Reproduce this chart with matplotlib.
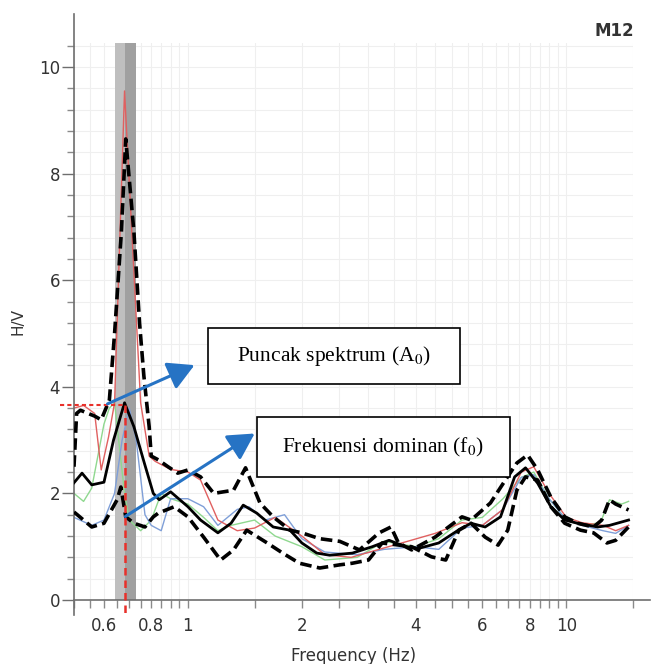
import matplotlib.pyplot as plt
import numpy as np
from matplotlib.patches import Rectangle, FancyArrowPatch
from matplotlib.ticker import FixedLocator, MultipleLocator, NullFormatter

# mean H/V curve (thick solid black)
freq_mean = [0.5, 0.525, 0.557, 0.6, 0.636, 0.68, 0.72, 0.767, 0.81, 0.84, 0.9, 1.0, 1.08,
             1.2, 1.3, 1.4, 1.52, 1.68, 1.86, 2.0, 2.19, 2.37, 2.72, 3.07, 3.4, 3.76, 4.08,
             4.6, 5.18, 5.6, 6.1, 6.7, 7.3, 7.8, 8.4, 9.1, 9.9, 10.7, 12.1, 13.0, 14.6]
hv_mean = [2.2, 2.38, 2.16, 2.21, 3.0, 3.7, 3.25, 2.57, 2.0, 1.88, 2.03, 1.75, 1.5,
           1.26, 1.44, 1.78, 1.63, 1.37, 1.31, 1.07, 0.88, 0.84, 0.88, 1.0, 1.12, 1.0, 0.97,
           1.07, 1.31, 1.44, 1.37, 1.56, 2.31, 2.48, 2.19, 1.75, 1.5, 1.44, 1.37, 1.4, 1.5]

# upper std curve (thick dashed)
freq_up = [0.5, 0.508, 0.52, 0.545, 0.567, 0.59, 0.62, 0.64, 0.667, 0.685, 0.72, 0.745, 0.765,
           0.79, 0.80, 0.835, 0.886, 0.94, 1.0, 1.08, 1.17, 1.32, 1.42, 1.55, 1.68, 1.86, 2.0,
           2.23, 2.52, 2.84, 3.2, 3.44, 3.6, 3.9, 4.5, 5.3, 5.6, 6.3, 6.9, 7.4, 7.9, 8.4, 9.1,
           9.9, 10.7, 11.8, 12.4, 13.0, 13.5, 14.6]
hv_up = [2.5, 3.5, 3.56, 3.5, 3.45, 3.38, 3.75, 5.0, 6.9, 8.65, 6.9, 5.2, 4.2,
         3.25, 2.7, 2.63, 2.5, 2.38, 2.44, 2.31, 2.0, 2.06, 2.48, 1.82, 1.56, 1.31, 1.26,
         1.15, 1.1, 0.94, 1.26, 1.37, 1.07, 0.94, 1.18, 1.56, 1.5, 1.82, 2.25, 2.57, 2.72, 2.44, 1.93,
         1.56, 1.44, 1.37, 1.5, 1.88, 1.8, 1.69]

# lower std curve (thick dashed)
freq_lo = [0.5, 0.51, 0.557, 0.6, 0.65, 0.665, 0.685, 0.72, 0.77, 0.81, 0.835, 0.92, 1.0, 1.1,
           1.22, 1.32, 1.43, 1.62, 1.78, 1.97, 2.23, 2.52, 2.72, 3.0, 3.26, 3.9, 4.4, 4.8, 5.2,
           5.6, 6.1, 6.6, 7.0, 7.4, 7.8, 8.4, 9.1, 9.9, 10.9, 11.8, 12.8, 13.5, 14.6]
hv_lo = [1.65, 1.6, 1.37, 1.44, 1.88, 2.12, 1.56, 1.44, 1.37, 1.56, 1.63, 1.75, 1.56, 1.18,
         0.75, 0.94, 1.31, 1.07, 0.88, 0.69, 0.6, 0.66, 0.69, 0.75, 1.07, 1.0, 0.81, 0.75, 1.31,
         1.44, 1.18, 1.03, 1.31, 2.06, 2.31, 2.25, 1.75, 1.44, 1.31, 1.26, 1.07, 1.12, 1.37]

# individual windows (thin coloured)
freq_red = [0.5, 0.53, 0.567, 0.59, 0.617, 0.64, 0.68, 0.75, 0.79, 0.82, 0.9, 1.0, 1.08, 1.2,
            1.35, 1.5, 1.7, 2.0, 2.3, 2.7, 3.2, 3.8, 4.5, 5.3, 6.0, 6.8, 7.6, 8.2, 9.0, 10.0,
            11.0, 12.5, 13.5, 14.6]
hv_red = [3.6, 3.65, 3.5, 2.44, 3.06, 3.7, 9.55, 3.7, 2.7, 2.6, 2.45, 2.4, 2.25, 1.5,
          1.3, 1.35, 1.55, 1.2, 0.85, 0.8, 0.95, 1.1, 1.25, 1.45, 1.4, 1.7, 2.4, 2.5, 2.0, 1.55,
          1.45, 1.4, 1.3, 1.4]

freq_green = [0.5, 0.53, 0.557, 0.6, 0.62, 0.64, 0.68, 0.7, 0.75, 0.8, 0.85, 0.9, 1.0, 1.1,
              1.2, 1.3, 1.5, 1.7, 2.0, 2.3, 2.8, 3.3, 4.0, 4.6, 5.3, 6.0, 6.8, 7.6, 8.2, 9.0,
              10.0, 11.0, 12.3, 13.0, 14.0, 14.6]
hv_green = [2.0, 1.85, 2.1, 3.3, 3.6, 3.7, 2.0, 1.5, 1.3, 1.5, 2.0, 1.9, 1.8, 1.55,
            1.3, 1.4, 1.5, 1.2, 1.0, 0.75, 0.8, 1.1, 1.0, 1.15, 1.5, 1.55, 1.9, 2.3, 2.4, 1.9,
            1.5, 1.4, 1.45, 1.88, 1.8, 1.85]

freq_blue = [0.5, 0.557, 0.6, 0.64, 0.67, 0.7, 0.73, 0.77, 0.8, 0.85, 0.9, 1.0, 1.1, 1.2,
             1.35, 1.45, 1.6, 1.8, 2.0, 2.3, 2.8, 3.3, 4.0, 4.6, 5.3, 6.0, 6.8, 7.6, 8.2, 9.0,
             10.0, 11.0, 12.5, 13.5, 14.6]
hv_blue = [1.55, 1.4, 1.5, 2.0, 3.0, 3.6, 3.0, 1.6, 1.4, 1.3, 1.9, 1.9, 1.75, 1.4,
           1.7, 1.75, 1.5, 1.6, 1.15, 0.9, 0.85, 0.95, 1.0, 0.95, 1.35, 1.4, 1.7, 2.3, 2.35, 1.9,
           1.5, 1.4, 1.3, 1.25, 1.4]

f0 = 0.68
f0_lo, f0_hi = 0.64, 0.727
A0 = 3.65

x_major = [0.6, 0.8, 1, 2, 4, 6, 8, 10, 15]
x_labels = ['0.6', '0.8', '1', '2', '4', '6', '8', '10', '']
x_minor = [0.5, 0.55, 0.65, 0.7, 0.75, 0.85, 0.9, 0.95, 1.5, 2.5, 3, 3.5, 4.5, 5, 5.5,
           6.5, 7, 7.5, 8.5, 9, 9.5]

W, H = 654, 664
fig = plt.figure(figsize=(W / 100, H / 100), dpi=100)
ax = fig.add_axes([74 / W, 1 - 600 / H, (633 - 74) / W, (600 - 43) / H])

ax.set_xscale('log')
ax.set_xlim(0.5, 15)
ax.set_ylim(0, 10.45)

# f0 band
ax.axvspan(f0_lo, f0, color='#bfbfbf', zorder=1, lw=0)
ax.axvspan(f0, f0_hi, color='#a0a0a0', zorder=1, lw=0)

ax.plot(freq_green, hv_green, color='#8fd88f', lw=1.0, zorder=2)
ax.plot(freq_blue, hv_blue, color='#7f9fd8', lw=1.0, zorder=2)
ax.plot(freq_red, hv_red, color='#e06060', lw=1.0, zorder=2)

dash = dict(color='black', lw=2.6, dashes=(3.2, 1.5), zorder=4)
ax.plot(freq_up, hv_up, **dash)
ax.plot(freq_lo, hv_lo, **dash)
ax.plot(freq_mean, hv_mean, color='black', lw=2.0, zorder=5)

# f0 / A0 markers
ax.plot([f0, f0], [A0, -0.28], color='#e8302a', lw=1.8, dashes=(3, 2), clip_on=False, zorder=6)
ax.plot([0.46, f0], [A0, A0], color='#e8302a', lw=1.5, dashes=(2, 1.5), clip_on=False, zorder=6)

ax.xaxis.set_major_locator(FixedLocator(x_major))
ax.set_xticklabels(x_labels)
ax.xaxis.set_minor_locator(FixedLocator(x_minor))
ax.xaxis.set_minor_formatter(NullFormatter())
ax.yaxis.set_major_locator(FixedLocator([0, 2, 4, 6, 8, 10]))
ax.yaxis.set_minor_locator(MultipleLocator(0.4))

ax.grid(which='both', color='#efefef', lw=0.8, zorder=0)
ax.set_axisbelow(True)

for s in ['top', 'right']:
    ax.spines[s].set_visible(False)
for s in ['left', 'bottom']:
    ax.spines[s].set_color('#6e6e6e')
    ax.spines[s].set_linewidth(1.2)
ax.spines['left'].set_bounds(-0.28, 11)
ax.spines['bottom'].set_bounds(0.5, 16.6)

ax.tick_params(axis='y', which='major', length=9, width=1, color='#6e6e6e', pad=1,
               labelsize=12, labelcolor='#333333')
ax.tick_params(axis='y', which='minor', length=5, width=1, color='#8a8a8a')
ax.tick_params(axis='x', which='both', length=6, width=1, color='#8a8a8a', pad=6,
               labelsize=12, labelcolor='#333333')

ax.set_ylabel('H/V', fontsize=11, color='#333333', labelpad=10)
ax.set_xlabel('Frequency (Hz)', fontsize=12, color='#333333', labelpad=9)

fig.text(614 / W, 1 - 31 / H, 'M12', fontsize=12, fontweight='bold', color='#333333',
         ha='center', va='center')

# annotation boxes
plt.rcParams['mathtext.fontset'] = 'stix'
boxes = [((208, 328, 460, 384), r'Puncak spektrum (A$_0$)'),
         ((257, 417, 510, 477), r'Frekuensi dominan (f$_0$)')]
for (x0, y0, x1, y1), txt in boxes:
    fig.patches.append(Rectangle((x0 / W, 1 - y1 / H), (x1 - x0) / W, (y1 - y0) / H,
                                 transform=fig.transFigure, facecolor='white',
                                 edgecolor='black', lw=1.2, zorder=7))
    fig.text((x0 + x1) / 2 / W, 1 - (y0 + y1) / 2 / H, txt, family='Liberation Serif',
             fontsize=15.5, ha='center', va='center', zorder=8)

arrows = [((105, 405), (197, 364)), ((123, 518), (257, 432))]
for (tx, ty), (hx, hy) in arrows:
    fig.add_artist(FancyArrowPatch(
        (tx / W, 1 - ty / H), (hx / W, 1 - hy / H), transform=fig.transFigure,
        arrowstyle='-|>,head_length=10,head_width=5.5', color='#2673c4', lw=2.2,
        mutation_scale=1.6, zorder=9))

fig.savefig('out.png', dpi=100)
